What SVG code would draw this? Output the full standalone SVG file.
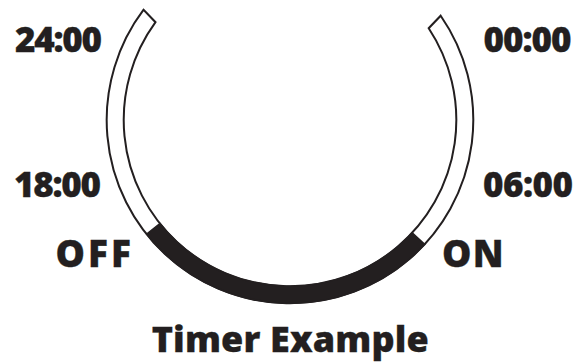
<svg xmlns="http://www.w3.org/2000/svg" width="587" height="362" viewBox="0 0 587 362">
  <style>
    .lbl { font-family: "Open Sans", Lato, "Liberation Sans", sans-serif; font-weight: 800; fill: #231f20; stroke: #231f20; stroke-width: 0.3; }
    .band { fill: #ffffff; stroke: #231f20; stroke-width: 2; stroke-linejoin: miter; }
    .on { fill: #231f20; stroke: #231f20; stroke-width: 1.5; }
  </style>
  <rect x="0" y="0" width="587" height="362" fill="#ffffff"/>
  <g id="dial">
    <path class="band" d="M 143.6,9.7 A 183.3 183.3 0 1 0 440.7,15.7 L 428.7,28.2 A 166.3 166.3 0 1 1 155.5,22.2 Z"/>
    <path id="on-period" class="on" d="M 146.6,234.1 A 183.3 183.3 0 0 0 424.7,244.3 L 412.2,232.8 A 166.3 166.3 0 0 1 159.9,223.5 Z"/>
  </g>
  <g id="labels">
    <text class="lbl" x="15" y="51.5" font-size="35" textLength="87" lengthAdjust="spacing">24:00</text>
    <text class="lbl" x="483.5" y="51.5" font-size="35" textLength="88" lengthAdjust="spacing">00:00</text>
    <text class="lbl" x="14" y="197" font-size="35" textLength="87" lengthAdjust="spacing">18:00</text>
    <text class="lbl" x="483" y="197" font-size="35" textLength="90" lengthAdjust="spacing">06:00</text>
    <text class="lbl" x="55.5" y="267" font-size="37" textLength="75.5" lengthAdjust="spacing">OFF</text>
    <text class="lbl" x="442" y="267" font-size="37" textLength="61.7" lengthAdjust="spacing">ON</text>
    <text class="lbl" x="151.7" y="352" font-size="36" textLength="277" lengthAdjust="spacing">Timer Example</text>
  </g>
</svg>
